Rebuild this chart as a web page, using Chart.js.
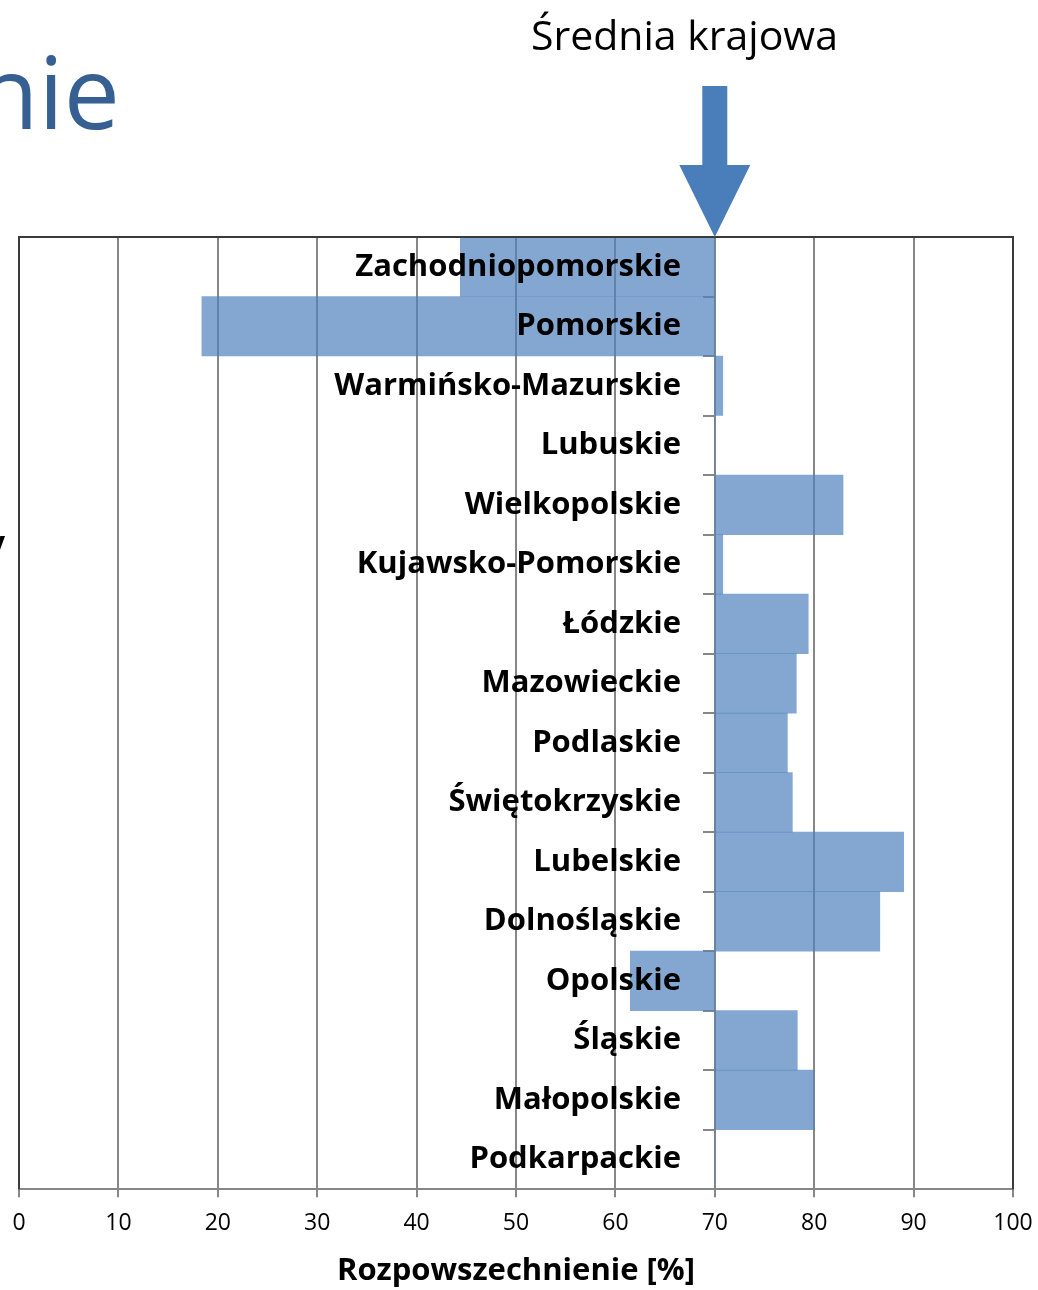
<!DOCTYPE html>
<html lang="pl">
<head>
<meta charset="utf-8">
<script src="https://cdn.jsdelivr.net/npm/chart.js@4.4.0/dist/chart.umd.min.js"></script>
<style>
html,body{margin:0;padding:0;background:#fff;overflow:hidden}
#wrap{position:relative;width:1038px;height:1290px}
#c{position:absolute;left:0;top:0}
.slide-title{position:absolute;right:918px;top:40px;font:100px/1 'Open Sans',sans-serif;color:#366092;white-space:nowrap}
.avg-label{position:absolute;left:531px;top:14px;font:41px/1 'Open Sans',sans-serif;color:#000;white-space:nowrap}
.cut{position:absolute;left:-12px;top:527px;font:bold 30px/1 'Open Sans',sans-serif;color:#000}
</style>
</head>
<body>
<div id="wrap">
  <canvas id="c" width="1038" height="1290"></canvas>
  <div class="slide-title">nie</div>
  <div class="avg-label">Średnia krajowa</div>
  <div class="cut">y</div>
</div>
<script>
/* ===== DATA ===== */
const regions=['Zachodniopomorskie','Pomorskie','Warmińsko-Mazurskie','Lubuskie','Wielkopolskie','Kujawsko-Pomorskie','Łódzkie','Mazowieckie','Podlaskie','Świętokrzyskie','Lubelskie','Dolnośląskie','Opolskie','Śląskie','Małopolskie','Podkarpackie'];
const prevalence=[44.4,18.4,70.8,70,82.9,70.8,79.4,78.2,77.3,77.8,89.0,86.6,61.5,78.3,80.0,70];
const nationalAvg=70;
const xMin=0,xMax=100,xStep=10;
const xTitle='Rozpowszechnienie [%]';

// where the right edge of the region names sits (in % units)
const labelEdge=66.6;

// bars float from the national average to each region's value
const bars=prevalence.map(v=>[nationalAvg,v]);

const frame={
  id:'frame',
  afterDatasetsDraw(chart){
    const {ctx,chartArea:a}=chart;
    ctx.save();
    ctx.strokeStyle='#3a3a3a';ctx.lineWidth=2;
    ctx.beginPath();
    ctx.moveTo(a.left,a.bottom);ctx.lineTo(a.left,a.top);
    ctx.lineTo(a.right,a.top);ctx.lineTo(a.right,a.bottom);
    ctx.stroke();
    ctx.restore();
  }
};

const avgArrow={
  id:'avgArrow',
  afterDraw(chart){
    const {ctx,chartArea:a}=chart;
    const x=chart.scales.x.getPixelForValue(nationalAvg);
    const tip=a.top;
    ctx.save();
    ctx.fillStyle='#4a7ebb';
    ctx.beginPath();
    ctx.moveTo(x-12.5,tip-151);
    ctx.lineTo(x+12.5,tip-151);
    ctx.lineTo(x+12.5,tip-72);
    ctx.lineTo(x+35.5,tip-72);
    ctx.lineTo(x,tip);
    ctx.lineTo(x-35.5,tip-72);
    ctx.lineTo(x-12.5,tip-72);
    ctx.closePath();
    ctx.fill();
    ctx.restore();
  }
};

new Chart(document.getElementById('c'),{
  type:'bar',
  data:{
    labels:regions,
    datasets:[{
      data:bars,
      backgroundColor:'rgba(79,129,189,0.7)',
      borderWidth:0,
      barPercentage:1,
      categoryPercentage:1
    }]
  },
  options:{
    indexAxis:'y',
    responsive:false,
    devicePixelRatio:1,
    animation:false,
    layout:{padding:{top:237,left:19,right:25,bottom:0}},
    plugins:{legend:{display:false},tooltip:{enabled:false}},
    scales:{
      x:{
        type:'linear',min:xMin,max:xMax,
        ticks:{stepSize:xStep,color:'#000',padding:12,font:{family:'Open Sans',size:23}},
        grid:{color:'#878787',lineWidth:2,tickLength:8},
        border:{color:'#878787',width:2},
        title:{display:true,text:xTitle,color:'#000',padding:{top:4,bottom:0},font:{family:'Open Sans',size:31,weight:'bold'}},
        // the outer labels may hang over the plot edge, like in the original
        afterFit(s){s.paddingLeft=0;s.paddingRight=0;}
      },
      y:{
        type:'category',offset:true,
        position:{x:nationalAvg},
        ticks:{display:false},
        grid:{offset:true,drawOnChartArea:false,drawTicks:true,tickLength:11,color:'#878787',lineWidth:2},
        border:{display:true,color:'#878787',width:2}
      },
      yLabels:{
        type:'category',axis:'y',offset:true,
        position:{x:labelEdge},
        grid:{display:false},
        border:{display:false},
        ticks:{z:1,color:'#000',font:{family:'Open Sans',size:31,weight:'bold'}}
      }
    }
  },
  plugins:[frame,avgArrow]
});
</script>
</body>
</html>
